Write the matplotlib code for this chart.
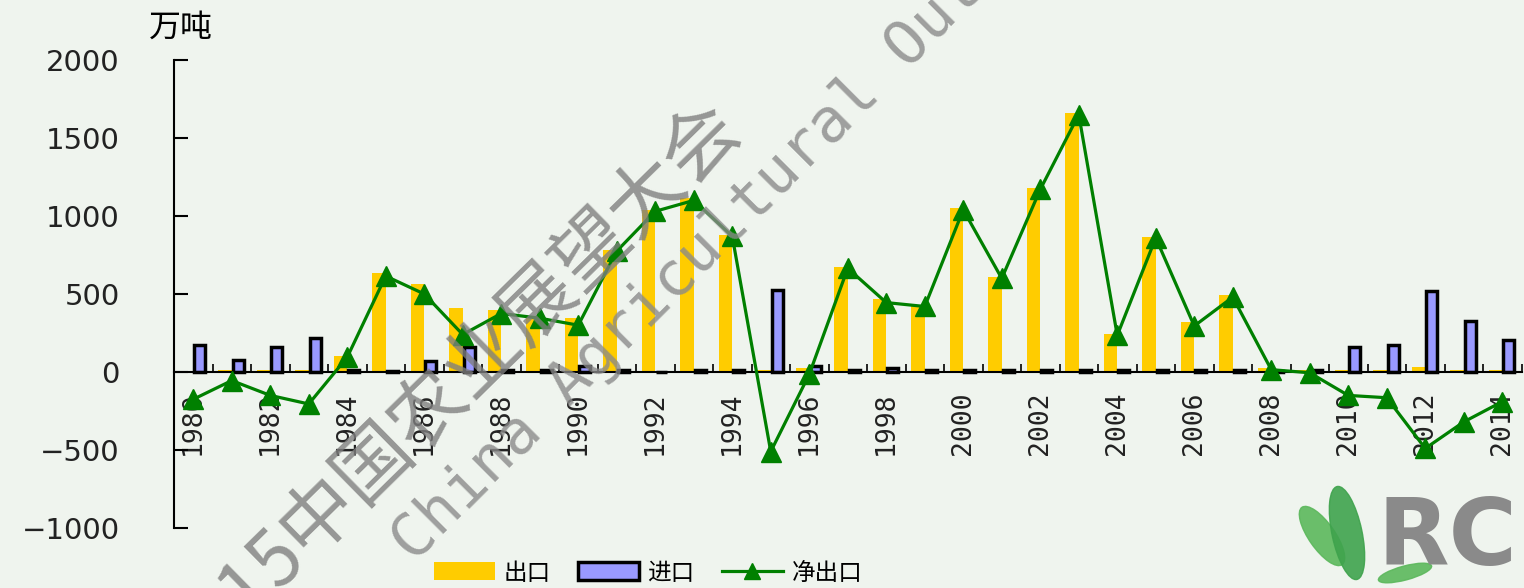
import numpy as np
import matplotlib
matplotlib.use('Agg')
import matplotlib.pyplot as plt
from matplotlib.patches import Ellipse
from matplotlib.lines import Line2D
from matplotlib.patches import Patch

plt.rcParams['font.family'] = ['Noto Sans CJK SC', 'DejaVu Sans']

# data (万吨)
years = list(range(1980, 2015))
export = [5, 15, 15, 15, 100, 635, 565, 410, 395, 350,
          345, 780, 1040, 1115, 880, 15, 25, 670, 470, 430,
          1050, 610, 1180, 1660, 245, 865, 320, 495, 25, 10,
          15, 15, 30, 15, 15]
imports = [175, 75, 160, 220, 10, 5, 70, 160, 10, 10,
           40, 10, 3, 10, 10, 525, 40, 10, 25, 10,
           10, 10, 10, 10, 10, 10, 10, 10, 5, 15,
           160, 175, 520, 330, 205]
net = [-175, -55, -150, -205, 95, 615, 500, 240, 375, 345,
       300, 775, 1030, 1100, 870, -510, -15, 665, 445, 420,
       1040, 600, 1170, 1650, 235, 860, 295, 480, 15, -5,
       -150, -165, -490, -320, -190]
labels = ['出口', '进口', '净出口']
yticks = [-1000, -500, 0, 500, 1000, 1500, 2000]

bg = '#eff4ee'
fig = plt.figure(figsize=(15.24, 5.88), dpi=100, facecolor=bg)
ax = fig.add_axes([174/1524, 1-528/588, 1347.5/1524, 468/588])
ax.set_facecolor(bg)

x = np.arange(len(years))
ax.bar(x - 0.175, export, width=0.35, color='#ffcc00', zorder=2)
ax.bar(x + 0.17, imports, width=0.28, color='#9999ff', edgecolor='black', linewidth=2.5, zorder=2)
ax.plot(x, net, color='#008000', linewidth=2.3, marker='^', markersize=14, zorder=3)

ax.set_xlim(-0.5, len(years) - 0.5)
ax.set_ylim(-1000, 2000)

ax.spines['top'].set_visible(False)
ax.spines['right'].set_visible(False)
ax.spines['bottom'].set_position(('data', 0))
ax.spines['left'].set_linewidth(1.5)
ax.spines['bottom'].set_linewidth(1.5)

ax.set_yticks(yticks)
ax.set_yticklabels([str(v).replace('-', '\u2212') for v in yticks], family='DejaVu Sans', fontsize=21, color='#222222')
ax.tick_params(axis='y', direction='in', length=10, width=1.5, pad=39)

ax.set_xticks(x[::2])
ax.set_xticklabels([str(y) for y in years[::2]], rotation=90, family='DejaVu Sans Mono', fontsize=19, color='#222222')
ax.set_xticks(np.arange(len(years) + 1) - 0.5, minor=True)
ax.tick_params(axis='x', which='major', length=0, pad=14)
ax.tick_params(axis='x', which='minor', direction='in', length=6, width=1.2)

fig.text(181/1524, 1 - 28/588, '万吨', fontsize=23, ha='center', va='center')

handles = [Patch(facecolor='#ffcc00', edgecolor='none'),
           Patch(facecolor='#9999ff', edgecolor='black', linewidth=2.5),
           Line2D([0], [0], color='#008000', linewidth=2.3, marker='^', markersize=12)]
fig.legend(handles, labels, loc='center', bbox_to_anchor=(648/1524, 1 - 573/588), ncol=3,
           frameon=False, fontsize=17, handlelength=2.6, handleheight=0.8,
           handletextpad=0.35, columnspacing=1.15)

# watermark
fig.text(451/1524, 1 - 389/588, '2015中国农业展望大会', fontsize=55, color='#7f7f7f', alpha=0.8,
         rotation=44.5, ha='center', va='center', rotation_mode='anchor', zorder=10)
fig.text(740/1524, 1 - 214/588, 'China Agricultural Outlook', family='DejaVu Sans Mono', fontsize=44,
         color='#8a8a8a', alpha=0.8, rotation=45, ha='center', va='center', rotation_mode='anchor', zorder=10)

# logo
tr = fig.dpi_scale_trans
fig.add_artist(Ellipse((13.22, 0.52), 0.26, 0.70, angle=35, color='#5cb85c', alpha=0.9, transform=tr))
fig.add_artist(Ellipse((13.47, 0.55), 0.30, 0.95, angle=12, color='#3fa34d', alpha=0.9, transform=tr))
fig.add_artist(Ellipse((14.05, 0.15), 0.55, 0.14, angle=15, color='#5cb85c', alpha=0.9, transform=tr))
fig.text(1378/1524, 1 - 565/588, 'RCE', family='DejaVu Sans', fontweight='bold', fontsize=67,
         color='#8a8a8a', ha='left', va='baseline')

fig.savefig('out.png', dpi=100, facecolor=bg)
